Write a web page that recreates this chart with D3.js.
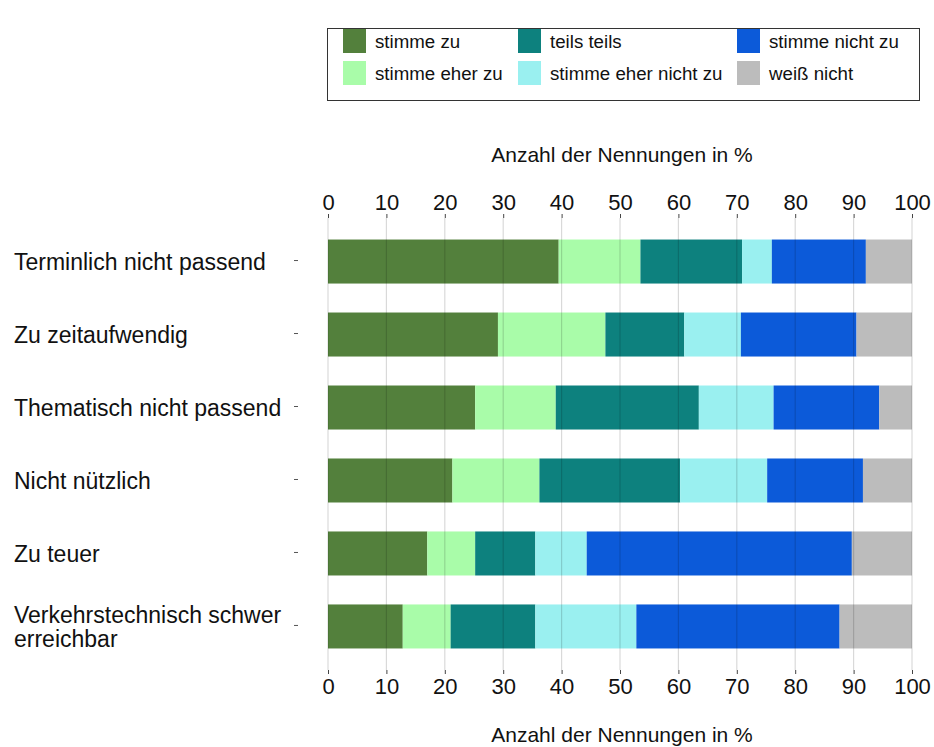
<!DOCTYPE html>
<html lang="de">
<head>
    <meta charset="UTF-8">
    <title>Gründe gegen eine Teilnahme</title>
    <script src="https://d3js.org/d3.v7.min.js"></script>
    <style>
        body { margin: 0; background: #fff; }
        svg { font-family: "Liberation Sans", Arial, sans-serif; }
    </style>
</head>
<body>
    <div id="chart"></div>
    <script>
        // Categories (top to bottom), label lines
        const categories = [
            ["Terminlich nicht passend"],
            ["Zu zeitaufwendig"],
            ["Thematisch nicht passend"],
            ["Nicht nützlich"],
            ["Zu teuer"],
            ["Verkehrstechnisch schwer", "erreichbar"]
        ];

        const answers = ["stimme zu", "stimme eher zu", "teils teils", "stimme eher nicht zu", "stimme nicht zu", "weiß nicht"];
        const colors = ["#53803c", "#a9fca9", "#0d817e", "#9af0f0", "#0c5ad9", "#bcbcbc"];

        // Shares in % per answer, one value per category
        const stimmeZu = [39.5, 29.1, 25.2, 21.3, 17.0, 12.8];
        const stimmeEherZu = [14.0, 18.4, 13.8, 14.9, 8.2, 8.2];
        const teilsTeils = [17.4, 13.5, 24.5, 24.1, 10.3, 14.5];
        const stimmeEherNichtZu = [5.1, 9.7, 12.8, 14.9, 8.8, 17.3];
        const stimmeNichtZu = [16.1, 19.8, 18.1, 16.4, 45.4, 34.8];
        const weissNicht = [7.9, 9.5, 5.6, 8.4, 10.3, 12.4];

        const xTicks = [0, 10, 20, 30, 40, 50, 60, 70, 80, 90, 100];
        const axisTitle = "Anzahl der Nennungen in %";

        const series = [stimmeZu, stimmeEherZu, teilsTeils, stimmeEherNichtZu, stimmeNichtZu, weissNicht];

        const W = 934, H = 747;
        const svg = d3.select("#chart").append("svg")
            .attr("width", W)
            .attr("height", H);

        const x = d3.scaleLinear().domain([0, 100]).range([328, 912]);
        const y = d3.scaleBand()
            .domain(d3.range(categories.length))
            .range([218, 670])
            .paddingInner(0.397)
            .paddingOuter(0.295);

        // stack data
        const rows = categories.map((c, i) => {
            const r = { idx: i };
            answers.forEach((a, k) => r[a] = series[k][i]);
            return r;
        });
        const stacked = d3.stack().keys(answers)(rows);

        // Bars
        svg.append("g")
            .selectAll("g")
            .data(stacked)
            .join("g")
            .attr("fill", (d, k) => colors[k])
            .selectAll("rect")
            .data(d => d)
            .join("rect")
            .attr("x", d => x(d[0]))
            .attr("y", d => y(d.data.idx))
            .attr("width", d => x(d[1]) - x(d[0]))
            .attr("height", y.bandwidth());

        // Gridlines on top of bars
        svg.append("g")
            .selectAll("line")
            .data(xTicks)
            .join("line")
            .attr("x1", d => x(d)).attr("x2", d => x(d))
            .attr("y1", 218).attr("y2", 670)
            .attr("stroke", "rgba(0,0,0,0.15)")
            .attr("stroke-width", 1.2);

        // Top and bottom axes
        const topAxis = svg.append("g")
            .attr("transform", "translate(0,218)")
            .call(d3.axisTop(x).tickValues(xTicks).tickSize(4).tickPadding(4));
        const bottomAxis = svg.append("g")
            .attr("transform", "translate(0,670)")
            .call(d3.axisBottom(x).tickValues(xTicks).tickSize(4).tickPadding(4));
        [topAxis, bottomAxis].forEach(a => {
            a.select(".domain").remove();
            a.selectAll(".tick line").attr("stroke", "#444");
            a.selectAll(".tick text")
                .attr("fill", "#111")
                .style("font-size", "22px")
                .style("font-family", "'Liberation Sans', Arial, sans-serif");
        });

        // Axis titles
        svg.append("text")
            .attr("x", 622).attr("y", 162)
            .attr("text-anchor", "middle")
            .attr("fill", "#111")
            .style("font-size", "21px")
            .text(axisTitle);
        svg.append("text")
            .attr("x", 622).attr("y", 742)
            .attr("text-anchor", "middle")
            .attr("fill", "#111")
            .style("font-size", "21px")
            .text(axisTitle);

        // Category labels and small tick dashes
        const labelG = svg.append("g");
        categories.forEach((lines, i) => {
            const cy = y(i) + y.bandwidth() / 2;
            const t = labelG.append("text")
                .attr("x", 14)
                .attr("fill", "#111")
                .style("font-size", "23px");
            const lh = 24;
            lines.forEach((ln, j) => {
                t.append("tspan")
                    .attr("x", 14)
                    .attr("y", cy + (j - (lines.length - 1) / 2) * lh)
                    .attr("dy", "0.36em")
                    .text(ln);
            });
            labelG.append("line")
                .attr("x1", 294).attr("x2", 298)
                .attr("y1", cy - 1).attr("y2", cy - 1)
                .attr("stroke", "#555")
                .attr("stroke-width", 1);
        });

        // Legend
        const legend = svg.append("g");
        legend.append("rect")
            .attr("x", 327.5).attr("y", 28.5)
            .attr("width", 592).attr("height", 72)
            .attr("fill", "#fff")
            .attr("stroke", "#333")
            .attr("stroke-width", 1);
        const colX = [343, 518, 737];
        const rowY = [29, 61];
        // column-major order: stimme zu / eher zu, teils / eher nicht, nicht zu / weiß nicht
        answers.forEach((a, k) => {
            const col = Math.floor(k / 2), row = k % 2;
            const g = legend.append("g")
                .attr("transform", `translate(${colX[col]},${rowY[row]})`);
            g.append("rect")
                .attr("width", 23).attr("height", 24)
                .attr("fill", colors[k]);
            g.append("text")
                .attr("x", 32).attr("y", 12)
                .attr("dy", "0.36em")
                .attr("fill", "#111")
                .style("font-size", "18.7px")
                .text(a);
        });
    </script>
</body>
</html>
